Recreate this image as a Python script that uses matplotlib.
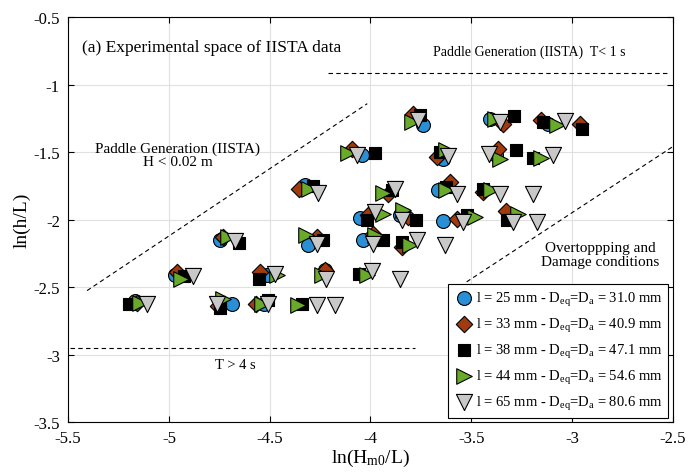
import matplotlib
matplotlib.use("Agg")
import matplotlib.pyplot as plt

plt.rcParams['font.family'] = ['Liberation Serif', 'DejaVu Serif']
plt.rcParams['mathtext.fontset'] = 'custom'
plt.rcParams['mathtext.rm'] = 'Liberation Serif'
plt.rcParams['mathtext.it'] = 'Liberation Serif:italic'

# series data: ln(Hm0/L), ln(h/L)
x25 = [-5.168, -4.970, -4.746, -4.689, -4.528, -4.515, -4.226, -4.325, -4.309, -4.052, -3.854,
       -4.036, -3.639, -3.664, -3.639, -3.375, -3.739, -3.408, -3.119, -4.044]
y25 = [-2.600, -2.413, -2.153, -2.622, -2.622, -2.413, -2.376, -1.741, -2.190, -1.987, -1.968,
       -2.153, -2.013, -1.778, -1.548, -1.524, -1.301, -1.252, -1.289, -1.524]

x33 = [-5.158, -4.958, -4.730, -4.754, -4.548, -4.568, -4.226, -4.353, -4.264, -3.912, -4.011,
       -3.813, -3.986, -3.846, -3.573, -3.328, -3.606, -3.441, -3.669, -3.367, -3.788, -3.342,
       -3.152, -2.962, -4.093]
y33 = [-2.620, -2.388, -2.128, -2.637, -2.387, -2.622, -2.370, -1.770, -2.128, -1.807, -1.963,
       -1.980, -2.104, -2.202, -1.993, -1.938, -1.721, -1.795, -1.536, -1.474, -1.215, -1.289,
       -1.264, -1.289, -1.474]

x38 = [-5.196, -4.925, -4.651, -4.749, -4.552, -4.507, -4.341, -4.057, -4.234, -4.284, -3.895,
       -4.019, -3.775, -3.937, -3.846, -3.523, -3.325, -3.623, -3.441, -3.656, -3.279, -3.193,
       -3.755, -3.289, -3.144, -2.953, -3.978]
y38 = [-2.622, -2.417, -2.170, -2.652, -2.442, -2.598, -2.622, -2.400, -2.153, -1.750, -1.783,
       -2.005, -2.005, -2.153, -2.165, -1.968, -2.005, -1.758, -1.770, -1.499, -1.487, -1.543,
       -1.227, -1.232, -1.276, -1.326, -1.504]

x44 = [-5.142, -4.941, -4.705, -4.730, -4.465, -4.540, -4.358, -4.243, -4.019, -4.320, -4.304,
       -3.937, -3.937, -3.838, -3.978, -3.805, -3.482, -3.267, -3.623, -3.400, -3.623, -3.358,
       -3.152, -3.796, -3.383, -3.077, -4.110]
y44 = [-2.620, -2.437, -2.128, -2.585, -2.413, -2.622, -2.635, -2.413, -2.413, -2.116, -1.770,
       -1.802, -1.956, -1.931, -2.116, -2.190, -1.980, -1.956, -1.783, -1.783, -1.487, -1.548,
       -1.543, -1.276, -1.252, -1.301, -1.504]

x65 = [-5.108, -4.879, -4.672, -4.763, -4.474, -4.507, -4.267, -4.176, -4.223, -3.991, -3.854,
       -4.264, -4.259, -3.879, -3.980, -3.845, -3.989, -3.771, -3.631, -3.540, -3.292, -3.176,
       -3.573, -3.358, -3.193, -3.615, -3.411, -3.094, -3.763, -3.358, -3.036, -4.066]
y65 = [-2.622, -2.417, -2.161, -2.622, -2.400, -2.622, -2.630, -2.635, -2.437, -2.383, -2.437,
       -2.178, -1.800, -1.770, -1.943, -2.005, -2.178, -2.153, -2.190, -2.017, -2.017, -2.017,
       -1.807, -1.807, -1.807, -1.528, -1.511, -1.524, -1.264, -1.276, -1.272, -1.524]

labels = [r"l = 25 mm - D$_{\mathrm{eq}}$=D$_{\mathrm{a}}$ = 31.0 mm",
          r"l = 33 mm - D$_{\mathrm{eq}}$=D$_{\mathrm{a}}$ = 40.9 mm",
          r"l = 38 mm - D$_{\mathrm{eq}}$=D$_{\mathrm{a}}$ = 47.1 mm",
          r"l = 44 mm - D$_{\mathrm{eq}}$=D$_{\mathrm{a}}$ = 54.6 mm",
          r"l = 65 mm - D$_{\mathrm{eq}}$=D$_{\mathrm{a}}$ = 80.6 mm"]

xticks = [-5.5, -5, -4.5, -4, -3.5, -3, -2.5]
xticklabels = ["-5.5", "-5", "-4.5", "-4", "-3.5", "-3", "-2.5"]
yticks = [-3.5, -3, -2.5, -2, -1.5, -1, -0.5]
yticklabels = ["-3.5", "-3", "-2.5", "-2", "-1.5", "-1", "-0.5"]

fig = plt.figure(figsize=(6.88, 4.77), dpi=100)
ax = fig.add_axes([0.099, 0.113, 0.879, 0.849])

ax.grid(True, color='#e0e0e0', linewidth=0.8)
ax.set_axisbelow(True)

styles = [
    dict(marker='o', color='#2a8fd4', s=100),
    dict(marker='D', color='#a13a0c', s=70),
    dict(marker='s', color='#000000', s=80),
    dict(marker='>', color='#6aaa2a', s=125),
    dict(marker='v', color='#c8c8c8', s=135),
]
series = [(x25, y25), (x33, y33), (x38, y38), (x44, y44), (x65, y65)]
for (xs, ys), st, lab in zip(series, styles, labels):
    ax.scatter(xs, ys, marker=st['marker'], s=st['s'], facecolor=st['color'],
               edgecolor='black', linewidth=0.8, label=lab, zorder=3)

# boundary lines
ax.plot([-4.211, -2.525], [-0.911, -0.911], 'k--', lw=0.8, dashes=(4, 3))
ax.plot([-5.406, -4.016], [-2.526, -1.141], 'k--', lw=0.8, dashes=(4, 3))
ax.plot([-5.49, -3.78], [-2.948, -2.948], 'k--', lw=0.8, dashes=(4, 3))
ax.plot([-3.523, -2.5], [-2.461, -1.459], 'k--', lw=0.8, dashes=(4, 3))

ax.text(-5.43, -0.72, "(a) Experimental space of IISTA data", fontsize=12.5, va='center', ha='left')
ax.text(-3.21, -0.75, "Paddle Generation (IISTA)  T< 1 s", fontsize=10, va='center', ha='center')
ax.text(-4.955, -1.52, "Paddle Generation (IISTA)\nH < 0.02 m", fontsize=11, va='center',
        ha='center', linespacing=1.0)
ax.text(-2.862, -2.26, "Overtoppping and\nDamage conditions", fontsize=11, va='center',
        ha='center', linespacing=1.15)
ax.text(-4.67, -3.07, "T > 4 s", fontsize=10.5, va='center', ha='center')

ax.set_xlim(-5.5, -2.5)
ax.set_ylim(-3.5, -0.5)
ax.set_xticks(xticks)
ax.set_xticklabels(xticklabels)
ax.set_yticks(yticks)
ax.set_yticklabels(yticklabels)
ax.tick_params(direction='in', top=True, right=True, labelsize=12, length=4, width=0.8, pad=6)
for sp in ax.spines.values():
    sp.set_linewidth(0.8)

ax.set_xlabel(r"ln(H$_{\mathrm{m0}}$/L)", fontsize=14, labelpad=0)
ax.set_ylabel("ln(h/L)", fontsize=14, labelpad=2)

leg = ax.legend(loc='lower right', fontsize=10.5, frameon=True, fancybox=False,
                edgecolor='black', framealpha=1, handletextpad=0.1, borderpad=0.4,
                labelspacing=0.55, handlelength=1.4, borderaxespad=0.3)
leg.get_frame().set_linewidth(0.8)

fig.savefig("out.png", dpi=100)
